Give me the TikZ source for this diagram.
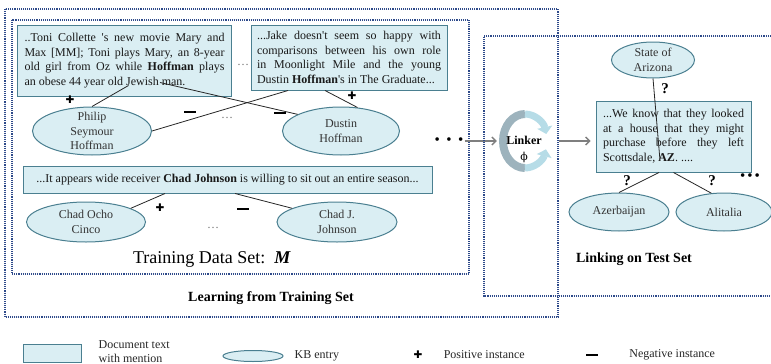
\documentclass[tikz,border=0pt]{standalone}
\usepackage{fontspec}
\setmainfont{Liberation Serif}
\newfontfamily\crossfont{DejaVu Sans}
\newfontfamily\greekfont{DejaVu Serif}
\usetikzlibrary{arrows.meta,positioning,shapes.geometric}
\definecolor{kbfill}{HTML}{DAEEF3}
\definecolor{kbedge}{HTML}{4A7F90}
\definecolor{grpblue}{HTML}{2E4A8A}
\definecolor{flowgray}{HTML}{7F7F7F}
\definecolor{ringgray}{HTML}{9DB3BD}
\definecolor{ringblue}{HTML}{B6DCE7}
\newcommand{\qt}{\textquotesingle}

\begin{document}
\begin{tikzpicture}[x=1pt,y=-1pt,
  doc/.style={draw=kbedge,fill=kbfill,line width=1pt,align=justify,text=black!90,
    font=\fontsize{12}{14.5}\selectfont,inner xsep=7pt,inner ysep=4pt},
  kb/.style={ellipse,draw=kbedge,fill=kbfill,line width=1pt,align=center,text=black!80,
    font=\fontsize{12}{14.5}\selectfont,inner sep=-4pt},
  grp/.style={draw=grpblue,densely dotted,line width=1.1pt},
  link/.style={black!85,line width=0.8pt},
  posmark/.style={font=\crossfont\fontsize{10.5}{10.5}\selectfont,inner sep=0pt},
  negmark/.style={inner sep=0pt},
  few/.style={font=\fontsize{12}{12}\selectfont,text=black!55,inner sep=0pt},
  many/.style={font=\fontsize{15}{15}\selectfont,inner sep=0pt},
  ask/.style={font=\bfseries\fontsize{15}{15}\selectfont,inner sep=0pt},
  flow/.style={-{Straight Barb[length=4pt,width=8pt]},flowgray,line width=1.4pt},
  caption/.style={font=\bfseries\fontsize{14}{16}\selectfont,anchor=base,inner sep=0pt},
  legend/.style={font=\fontsize{12}{13.5}\selectfont,anchor=west,align=left,text=black!85,inner sep=0pt}]
  \useasboundingbox (0,0) rectangle (771,364);

  % learning side
  \draw[grp] (5,9) rectangle (558,317);
  \draw[grp] (12,20) rectangle (469,274);

  \node[doc,text width=200pt,minimum height=71pt] (toni) at (124.5,60.5)
    {..Toni Collette \qt s new movie Mary and\linebreak
     Max [MM]; Toni plays Mary, an 8-year\linebreak
     old girl from Oz while \textbf{Hoffman} plays\linebreak
     an obese 44 year old Jewish man.};
  \node[doc,text width=184pt,minimum height=65pt,inner xsep=6pt] (jake) at (349,57.5)
    {...Jake doesn\qt t seem so happy with\linebreak
     comparisons between his own role\linebreak
     in Moonlight Mile and the young\linebreak
     Dustin \textbf{Hoffman}\qt s in The Graduate...};
  \node[few] (docdots) at (243,65) {\dots};

  \node[kb,minimum width=119pt,minimum height=48pt] (philip) at (92,131) {Philip\\Seymour\\Hoffman};
  \node[kb,minimum width=117pt,minimum height=48pt] (dustin) at (341,131) {Dustin\\Hoffman};
  \node[few] (kbdots) at (227,118) {\dots};

  \draw[link] (philip.north) -- ([xshift=4pt,yshift=11pt]toni.south);
  \draw[link] ([xshift=35.5pt,yshift=14pt]toni.south) -- (dustin.159);
  \draw[link] (philip.east) -- ([xshift=-61pt]jake.south);
  \draw[link] ([xshift=-24pt]jake.south) -- (dustin.55);
  \node[posmark] (pos1) at (70,100) {✚};
  \node[negmark] (neg1) at (190,112) {\rule{12pt}{2.8pt}};
  \node[negmark] (neg2) at (280,113) {\rule{12pt}{2.8pt}};
  \node[posmark] (pos2) at (352,96) {✚};

  \node[doc,align=center,minimum width=409pt,minimum height=27pt,inner xsep=2pt] (chad) at (227.5,179.5)
    {...It appears wide receiver \textbf{Chad Johnson} is willing to sit out an entire season...};
  \node[kb,minimum width=119pt,minimum height=40pt] (ocho) at (86,222) {Chad Ocho\\Cinco};
  \node[kb,minimum width=120pt,minimum height=40pt] (chadj) at (337,222) {Chad J.\\Johnson};
  \node[few] (chaddots) at (213,228) {\dots};
  \draw[link] ([xshift=-62.5pt]chad.south) -- (ocho.17);
  \draw[link] ([xshift=7.5pt]chad.south) -- (chadj.163);
  \node[posmark] (pos3) at (160,208) {✚};
  \node[negmark] (neg3) at (243,209) {\rule{12pt}{2.8pt}};

  \node[anchor=base,font=\fontsize{18}{18}\selectfont,inner sep=0pt] (trainset) at (212,263)
    {Training Data Set:~~\textbf{\textit{M}}};
  \node[caption] (learncap) at (271,301) {Learning from Training Set};

  % linker
  \node[many] (moredots) at (449,141) {\textbullet\hspace{6.5pt}\textbullet\hspace{6.5pt}\textbullet};
  \node[circle,minimum size=56pt,inner sep=0pt] (linker) at (525,141) {};
  \draw[ringgray,line width=8pt] ([yshift=27pt]linker.center)
    arc[start angle=270,end angle=90,x radius=22,y radius=27];
  \draw[ringblue,line width=7pt,-{Triangle[length=7pt,width=15pt]}] ([yshift=27pt]linker.center)
    arc[start angle=270,end angle=345,x radius=22,y radius=27];
  \draw[ringblue,line width=7pt,-{Triangle[length=7pt,width=15pt]}] ([yshift=-27pt]linker.center)
    arc[start angle=90,end angle=18,x radius=22,y radius=27];
  \node[align=center,font=\bfseries\fontsize{12}{16}\selectfont,inner sep=0pt] (linkerlbl) at (524,149)
    {Linker\\{\greekfont\mdseries\fontsize{11}{11}\selectfont ϕ}};

  \draw[flow,shorten <=1pt] (moredots.east) -- (linker.west);
  \draw[grp] (775,36) -| (484,296) -- (775,296);

  % test side
  \node[kb,minimum width=83pt,minimum height=36pt] (arizona) at (653,60) {State of\\Arizona};
  \node[doc,text width=141pt,minimum height=71pt] (testdoc) at (673.5,136.5)
    {...We know that they looked\linebreak
     at a house that they might\linebreak
     purchase before they left\linebreak
     Scottsdale, \textbf{AZ}. ....};
  \draw[flow,shorten <=6pt,shorten >=5pt] (linker.east) -- (testdoc.west |- linker.east);
  \node[kb,minimum width=100pt,minimum height=38pt] (azer) at (619,212) {Azerbaijan};
  \node[kb,minimum width=96pt,minimum height=38pt] (alitalia) at (724,212) {Alitalia};
  \draw[link] (arizona.south) -- ([xshift=-13.5pt,yshift=12pt]testdoc.south);
  \draw[link] ([xshift=-14.5pt]testdoc.south) -- (azer.north);
  \draw[link] (testdoc.south) -- (alitalia.124);
  \node[ask] (ask1) at (665,89) {?};
  \node[ask] (ask2) at (627,181) {?};
  \node[ask] (ask3) at (712,181) {?};
  \node[many] (testdots) at (750,177) {\textbullet\hspace{2pt}\textbullet\hspace{2pt}\textbullet};
  \node[caption] (testcap) at (634,262) {Linking on Test Set};

  % key
  \node[doc,minimum width=58pt,minimum height=18pt,inner sep=0pt] (keydoc) at (52,353) {};
  \node[legend,right=17pt of keydoc,yshift=1.5pt] (keydoctext) {Document text\\with mention};
  \node[kb,minimum width=60pt,minimum height=11pt,inner sep=0pt] (keykb) at (253,356) {};
  \node[legend,right=11pt of keykb] (keykbtext) {KB entry};
  \node[posmark] (keypos) at (418,355) {✚};
  \node[legend,right=21pt of keypos] (keypostext) {Positive instance};
  \node[negmark] (keyneg) at (592,355) {\rule{12pt}{2.8pt}};
  \node[legend,right=31pt of keyneg] (keynegtext) {Negative instance};
\end{tikzpicture}
\end{document}
